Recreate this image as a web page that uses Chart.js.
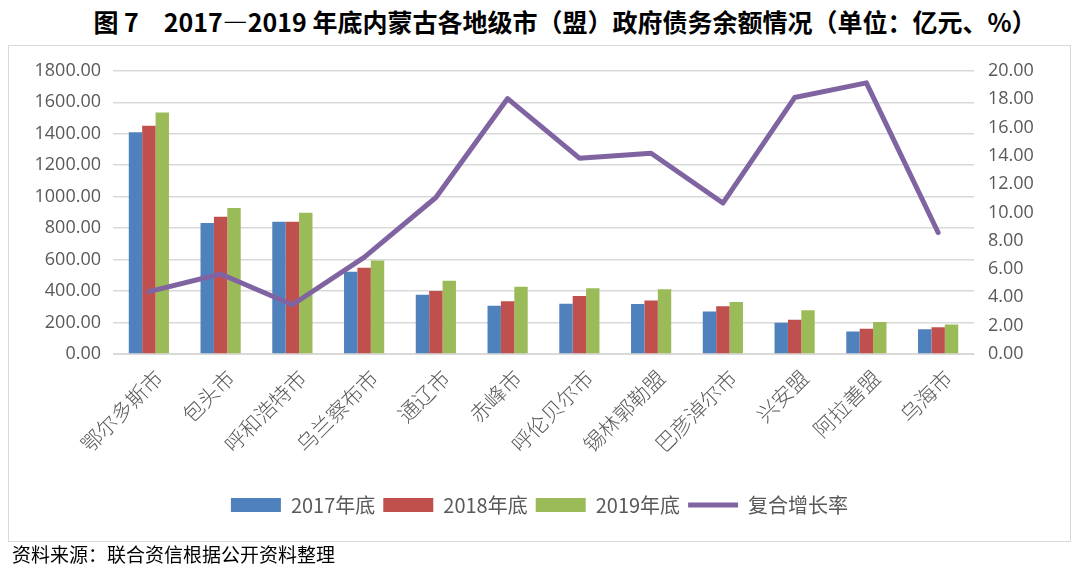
<!DOCTYPE html>
<html lang="zh">
<head>
<meta charset="UTF-8">
<title>内蒙古各地级市政府债务余额</title>
<script src="https://cdn.jsdelivr.net/npm/chart.js"></script>
<style>
  body { margin: 0; background: #fff; width: 1080px; height: 572px; position: relative; overflow: hidden; }
  #title { position: absolute; left: 0; top: 3px; width: 1130px; text-align: center; font-family: "Noto Sans CJK SC"; font-weight: bold; font-size: 25px; color: #000; }
  #box { position: absolute; left: 8px; top: 45px; width: 1061px; height: 495px; border: 1px solid #d9d9d9; }
  #footer { position: absolute; left: 12px; top: 540px; font-family: "Noto Sans CJK SC"; font-size: 19px; color: #000; }
</style>
</head>
<body>
<div id="title">图 7　2017—2019 年底内蒙古各地级市（盟）政府债务余额情况（单位：亿元、%）</div>
<div id="box"><canvas id="c" width="1061" height="495"></canvas></div>
<div id="footer">资料来源：联合资信根据公开资料整理</div>
<script>
// 地级市（盟）
const cities = ['鄂尔多斯市', '包头市', '呼和浩特市', '乌兰察布市', '通辽市', '赤峰市',
                '呼伦贝尔市', '锡林郭勒盟', '巴彦淖尔市', '兴安盟', '阿拉善盟', '乌海市'];

// 债务余额，亿元
const debt2017 = [1410, 832, 840, 523, 376, 306, 320, 318, 270, 198, 143, 157];
const debt2018 = [1450, 872, 840, 548, 400, 335, 368, 340, 303, 217, 160, 170];
const debt2019 = [1535, 928, 898, 594, 466, 428, 418, 412, 330, 278, 204, 187];

// 复合增长率，%
const growth = [4.40, 5.65, 3.48, 6.82, 11.05, 18.04, 13.83, 14.18, 10.66, 18.11, 19.15, 8.58];

const tickFont = { family: 'Open Sans', size: 18 };
const grey = '#595959';

new Chart(document.getElementById('c'), {
    data: {
        labels: cities,
        datasets: [
            { type: 'bar', label: '2017年底', data: debt2017, backgroundColor: '#4f81bd', yAxisID: 'y', order: 2 },
            { type: 'bar', label: '2018年底', data: debt2018, backgroundColor: '#c0504d', yAxisID: 'y', order: 2 },
            { type: 'bar', label: '2019年底', data: debt2019, backgroundColor: '#9bbb59', yAxisID: 'y', order: 2 },
            {
                type: 'line', label: '复合增长率', data: growth, yAxisID: 'y1', order: 1,
                borderColor: '#8064a2', backgroundColor: '#8064a2', borderWidth: 5,
                pointRadius: 0, tension: 0, borderCapStyle: 'round', borderJoinStyle: 'round'
            }
        ]
    },
    options: {
        responsive: false,
        animation: false,
        layout: { padding: { top: 18, left: 0, right: 0, bottom: 16 } },
        datasets: { bar: { barPercentage: 1, categoryPercentage: 0.56 } },
        plugins: {
            tooltip: { enabled: false },
            legend: {
                position: 'bottom',
                labels: {
                    font: { family: 'Noto Sans CJK SC', size: 20 },
                    color: grey,
                    usePointStyle: true, pointStyleWidth: 50, boxHeight: 14, padding: 8,
                    sort: (a, b) => a.datasetIndex - b.datasetIndex,
                    // bars as rectangles, growth rate as a line
                    generateLabels: (chart) => Chart.defaults.plugins.legend.labels.generateLabels(chart).map(l => {
                        l.pointStyle = l.datasetIndex === 3 ? 'line' : 'rect';
                        return l;
                    })
                }
            }
        },
        scales: {
            x: {
                grid: { display: false },
                border: { color: '#d9d9d9' },
                ticks: {
                    font: { family: 'Noto Sans CJK SC', size: 21, weight: 300 },
                    color: grey,
                    maxRotation: 45, minRotation: 45, autoSkip: false,
                    labelOffset: 10
                },
                afterFit: (s) => { s.height = 133; }
            },
            y: {
                position: 'left',
                min: 0, max: 1800,
                ticks: { stepSize: 200, font: tickFont, color: grey, padding: 12,
                    callback: v => v.toFixed(2) },
                grid: { color: '#d9d9d9', lineWidth: 1.5, drawTicks: false },
                border: { display: false },
                afterFit: (s) => { s.width = 104; }
            },
            y1: {
                position: 'right',
                min: 0, max: 20,
                ticks: { stepSize: 2, font: tickFont, color: grey, padding: 14,
                    callback: v => v.toFixed(2) },
                grid: { display: false, drawTicks: false },
                border: { display: false },
                afterFit: (s) => { s.width = 96; }
            }
        }
    }
});
</script>
</body>
</html>
